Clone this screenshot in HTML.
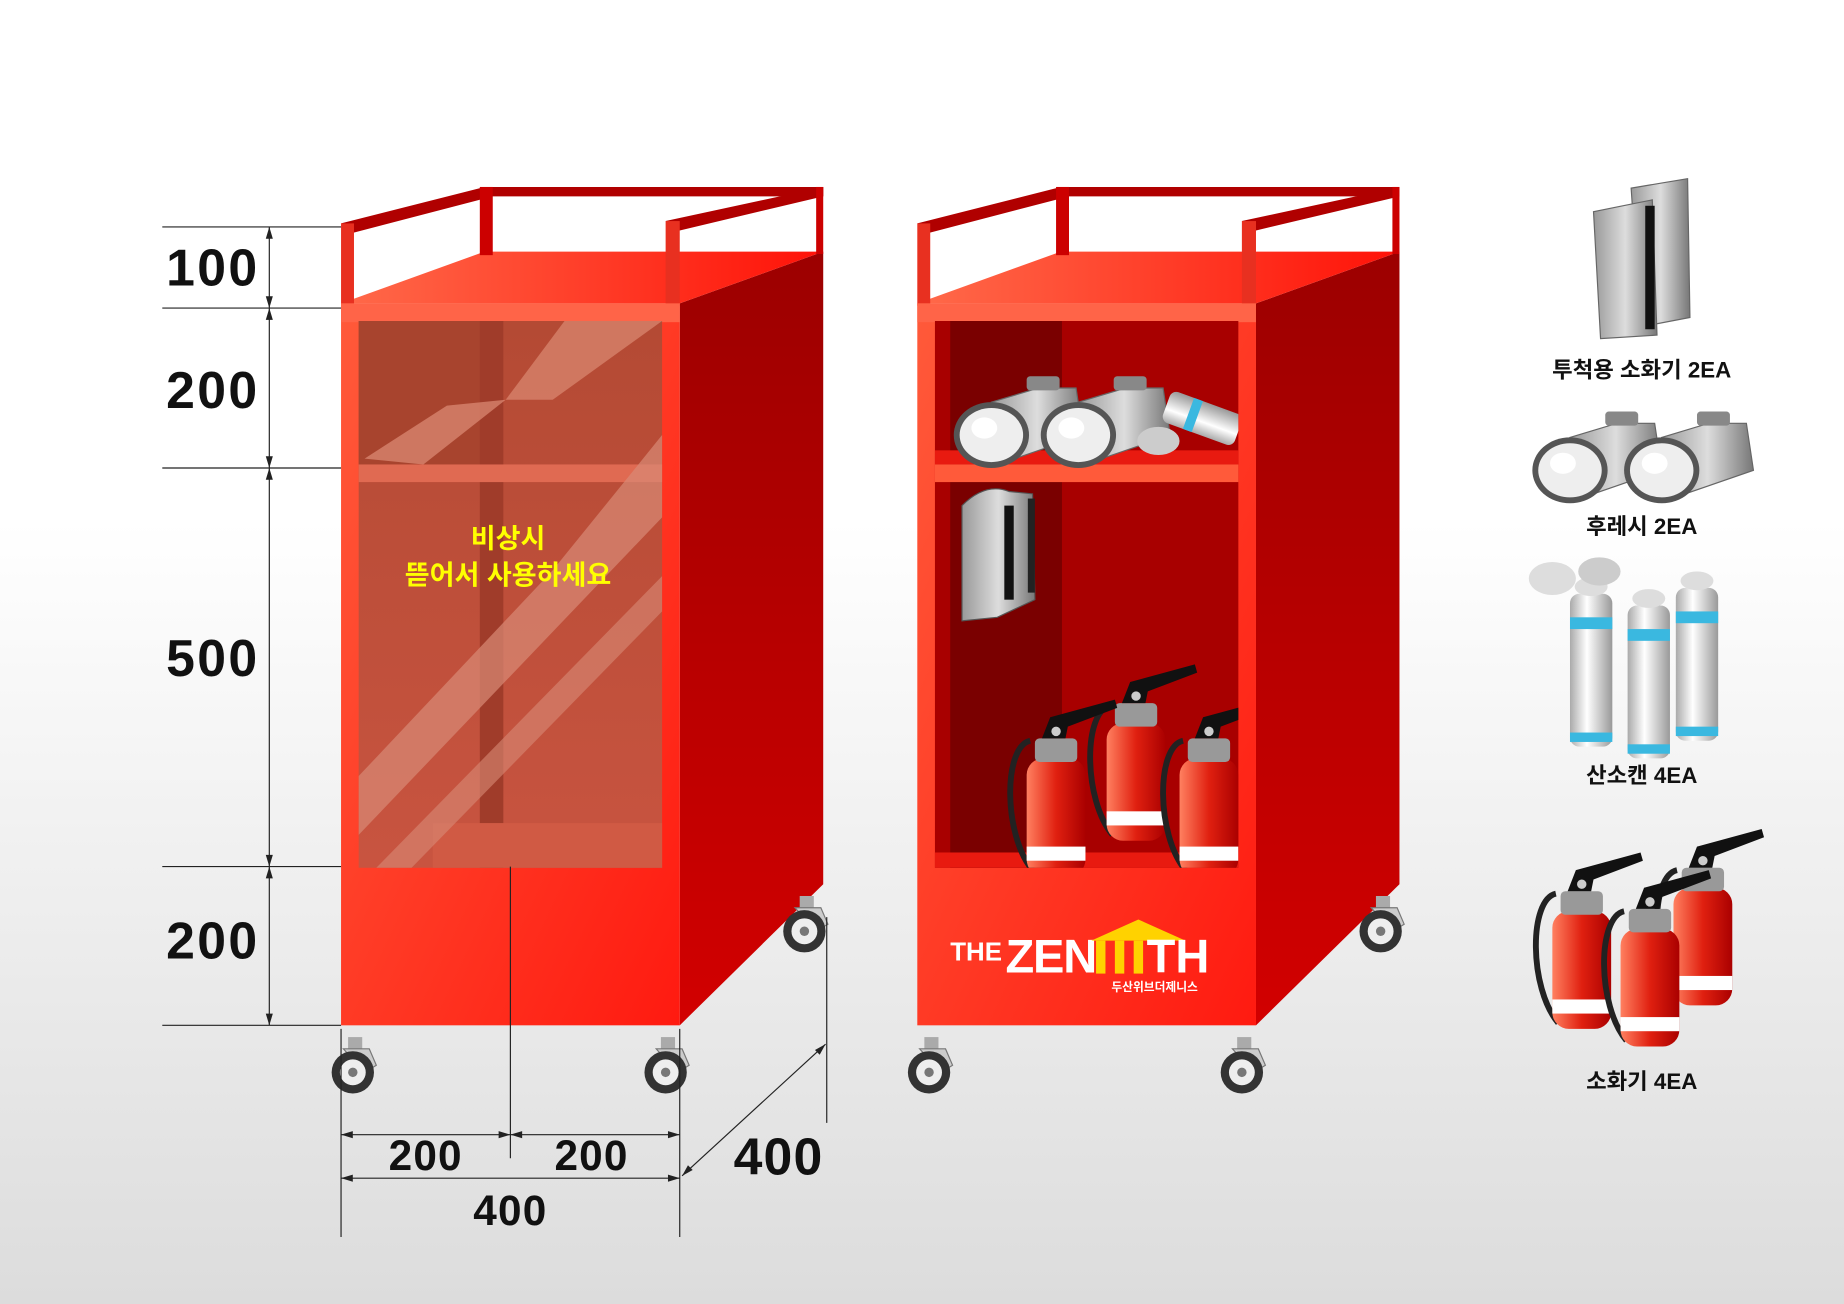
<!DOCTYPE html>
<html><head><meta charset="utf-8"><style>
html,body{margin:0;padding:0;width:1844px;height:1304px;overflow:hidden}
svg{display:block}
text{font-family:"Liberation Sans","Noto Sans CJK KR",sans-serif;font-weight:bold}
</style></head><body>
<svg width="1844" height="1304" viewBox="0 0 1568 1109" preserveAspectRatio="none" xmlns="http://www.w3.org/2000/svg">
<defs>
<linearGradient id="bg" x1="0" y1="0" x2="0" y2="1"><stop offset="0.4" stop-color="#fff"/><stop offset="1" stop-color="#dcdcdc"/></linearGradient>
<linearGradient id="front" x1="0" y1="0" x2="1" y2="1"><stop offset="0" stop-color="#ff5a3a"/><stop offset="1" stop-color="#ff1a10"/></linearGradient>
<linearGradient id="top" x1="0" y1="0" x2="1" y2="0"><stop offset="0" stop-color="#ff6a4a"/><stop offset="1" stop-color="#ff1208"/></linearGradient>
<linearGradient id="side" x1="0" y1="0" x2="0" y2="1"><stop offset="0" stop-color="#9c0000"/><stop offset="1" stop-color="#d20000"/></linearGradient>
<linearGradient id="glass" x1="0" y1="0" x2="0" y2="1"><stop offset="0" stop-color="#b44a34"/><stop offset="1" stop-color="#c85440"/></linearGradient>
<linearGradient id="ext" x1="0" y1="0" x2="1" y2="0"><stop offset="0" stop-color="#ff8060"/><stop offset="0.5" stop-color="#e02010"/><stop offset="1" stop-color="#a00"/></linearGradient>
<linearGradient id="can" x1="0" y1="0" x2="1" y2="0"><stop offset="0" stop-color="#aaa"/><stop offset="0.4" stop-color="#fff"/><stop offset="1" stop-color="#999"/></linearGradient>
<linearGradient id="grey" x1="0" y1="0" x2="1" y2="0"><stop offset="0" stop-color="#999"/><stop offset="0.5" stop-color="#ddd"/><stop offset="1" stop-color="#777"/></linearGradient>
<clipPath id="inner"><rect x="795" y="273" width="258" height="465"/></clipPath>
<g id="wheel">
  <rect x="-4" y="-30" width="12" height="12" fill="#aaa"/>
  <path d="M-8,-20 L14,-20 L20,-6 L10,0 Z" fill="#ccc" stroke="#777"/>
  <circle cx="0" cy="0" r="18" fill="#333"/><circle cx="0" cy="0" r="11" fill="#eee"/><circle cx="0" cy="0" r="4" fill="#777"/>
</g>
<g id="cart">
  <polygon points="578,258 700,214 700,752 578,872" fill="url(#side)"/>
  <polygon points="290,258 412,214 700,214 578,258" fill="url(#top)"/>
  <polygon points="290,190 412,159 700,159 700,167 419,167 300,198" fill="#b00000"/>
  <rect x="408" y="159" width="11" height="58" fill="#c00"/>
  <rect x="290" y="190" width="11" height="70" fill="#e83020"/>
  <polygon points="566,188 700,159 700,167 578,196" fill="#b00000"/>
  <rect x="566" y="188" width="12" height="72" fill="#e83020"/>
  <rect x="694" y="159" width="6" height="57" fill="#c00"/>
  <rect x="290" y="258" width="288" height="614" fill="url(#front)"/>
  <rect x="290" y="258" width="288" height="16" fill="#ff6448"/>
</g>
<g id="ext1">
  <path d="M-22,-60 C-45,-55 -45,20 -20,50" fill="none" stroke="#222" stroke-width="5"/>
  <rect x="-25" y="-45" width="50" height="100" rx="14" fill="url(#ext)"/>
  <rect x="-25" y="30" width="50" height="12" fill="#fff"/>
  <rect x="-18" y="-62" width="36" height="20" rx="4" fill="#999"/>
  <path d="M-12,-62 L-5,-80 L50,-95 L52,-88 L10,-72 L8,-62 Z" fill="#111"/>
  <circle cx="0" cy="-68" r="4" fill="#ccc"/>
</g>
<g id="flash">
  <path d="M0,-18 L40,-30 L72,-30 L78,10 L20,30 Z" fill="url(#grey)" stroke="#666"/>
  <rect x="30" y="-40" width="28" height="12" rx="3" fill="#888"/>
  <ellipse cx="0" cy="10" rx="32" ry="28" fill="#555"/>
  <ellipse cx="0" cy="10" rx="27" ry="23" fill="#eee"/>
  <ellipse cx="-6" cy="4" rx="11" ry="9" fill="#fff"/>
</g>
<g id="can1">
  <rect x="-18" y="-60" width="36" height="130" rx="8" fill="url(#can)"/>
  <rect x="-18" y="-40" width="36" height="10" fill="#3ab8e0"/>
  <rect x="-18" y="58" width="36" height="8" fill="#3ab8e0"/>
  <ellipse cx="0" cy="-66" rx="14" ry="8" fill="#ddd"/>
</g>
<g id="mask">
  <path d="M0,0 Q20,-20 40,-12 L60,-10 L62,80 L30,95 L0,98 Z" fill="url(#grey)" stroke="#555"/>
  <rect x="36" y="0" width="8" height="80" fill="#111"/>
  <rect x="56" y="-6" width="6" height="80" fill="#222"/>
</g>
</defs>
<rect width="1568" height="1109" fill="url(#bg)"/>

<!-- LEFT CART -->
<use href="#cart"/>
<rect x="305" y="273" width="258" height="465" fill="url(#glass)"/>
<rect x="305" y="273" width="110" height="122" fill="#a8442e"/>
<rect x="408" y="273" width="20" height="465" fill="#a03c2a"/>
<rect x="305" y="395" width="258" height="15" fill="#e06a52"/>
<rect x="368" y="700" width="195" height="38" fill="#d05a44"/>
<polygon points="305,660 470,485 563,370 563,440 305,710" fill="#d98a76" opacity="0.7"/>
<polygon points="320,738 563,490 563,520 350,738" fill="#d98a76" opacity="0.6"/>
<polygon points="430,340 480,273 563,273 470,340" fill="#dc8a74" opacity="0.7"/>
<polygon points="310,390 380,345 430,340 360,395" fill="#e89a84" opacity="0.6"/>
<text x="432" y="466" font-size="23" fill="#ffff00" text-anchor="middle">비상시</text>
<text x="432" y="497" font-size="23" fill="#ffff00" text-anchor="middle">뜯어서 사용하세요</text>
<use href="#wheel" x="300" y="912"/>
<use href="#wheel" x="566" y="912"/>
<use href="#wheel" x="684" y="792"/>

<!-- RIGHT CART -->
<g transform="translate(490,0)">
<use href="#cart"/>
<rect x="305" y="273" width="258" height="465" fill="#a80000"/>
<rect x="318" y="273" width="95" height="465" fill="#7a0000"/>
<rect x="305" y="383" width="258" height="12" fill="#e81a10"/>
<rect x="305" y="395" width="258" height="15" fill="#ff5a3a"/>
<rect x="305" y="725" width="258" height="13" fill="#e81a10"/>
</g>
<g clip-path="url(#inner)">
<use href="#flash" x="843" y="360"/>
<use href="#flash" x="917" y="360"/>
<g transform="translate(1020,355) rotate(-70)"><rect x="-14" y="-30" width="28" height="65" rx="6" fill="url(#can)"/><rect x="-14" y="-10" width="28" height="8" fill="#3ab8e0"/></g>
<ellipse cx="985" cy="375" rx="18" ry="12" fill="#ccc"/>
<use href="#mask" x="818" y="430"/>
<use href="#ext1" x="966" y="660"/>
<use href="#ext1" x="898" y="690"/>
<use href="#ext1" x="1028" y="690"/>
</g>
<text x="808" y="817" font-size="22" fill="#fff">THE</text>
<text x="855" y="827" font-size="40" fill="#fff" letter-spacing="-1">ZEN</text>
<path d="M928,800 L968,782 L1008,800 Z" fill="#ffd200"/>
<rect x="932" y="800" width="8" height="28" fill="#ffd200"/><rect x="948" y="800" width="8" height="28" fill="#ffd200"/><rect x="964" y="800" width="8" height="28" fill="#ffd200"/>
<text x="975" y="827" font-size="40" fill="#fff">TH</text>
<text x="945" y="843" font-size="10" fill="#fff">두산위브더제니스</text>
<use href="#wheel" x="790" y="912"/>
<use href="#wheel" x="1056" y="912"/>
<use href="#wheel" x="1174" y="792"/>

<!-- DIMENSIONS -->
<g stroke="#222" stroke-width="1" fill="none">
<line x1="138" y1="193" x2="290" y2="193"/><line x1="138" y1="262" x2="290" y2="262"/>
<line x1="138" y1="398" x2="290" y2="398"/><line x1="138" y1="737" x2="290" y2="737"/>
<line x1="138" y1="872" x2="290" y2="872"/>
<line x1="229" y1="193" x2="229" y2="872"/>
<line x1="290" y1="875" x2="290" y2="1052"/><line x1="434" y1="737" x2="434" y2="985"/>
<line x1="578" y1="875" x2="578" y2="1052"/>
<line x1="290" y1="965" x2="578" y2="965"/><line x1="290" y1="1002" x2="578" y2="1002"/>
<line x1="580" y1="1000" x2="702" y2="888"/><line x1="703" y1="780" x2="703" y2="955"/>
</g>
<g fill="#222">
<path d="M229,193 l-3,10 h6z M229,262 l-3,-10 h6z M229,262 l-3,10 h6z M229,398 l-3,-10 h6z M229,398 l-3,10 h6z M229,737 l-3,-10 h6z M229,737 l-3,10 h6z M229,872 l-3,-10 h6z"/>
<path d="M290,965 l10,-3 v6z M434,965 l-10,-3 v6z M434,965 l10,-3 v6z M578,965 l-10,-3 v6z M290,1002 l10,-3 v6z M578,1002 l-10,-3 v6z M580,1000 l5,-9 l4,4z M702,888 l-5,9 l-4,-4z"/>
</g>
<g font-size="44" fill="#111" text-anchor="middle" letter-spacing="2">
<text x="181" y="243">100</text><text x="181" y="347">200</text>
<text x="181" y="575">500</text><text x="181" y="815">200</text>
</g>
<g font-size="36" fill="#111" text-anchor="middle" letter-spacing="1">
<text x="362" y="995">200</text><text x="503" y="995">200</text>
<text x="434" y="1042">400</text><text x="662" y="999" font-size="44">400</text>
</g>

<!-- RIGHT ICONS -->
<g transform="translate(1355,170)">
<path d="M32,-10 L80,-18 L82,100 L40,108 Z" fill="url(#grey)" stroke="#666"/>
<path d="M0,10 L50,0 L54,115 L6,118 Z" fill="url(#grey)" stroke="#666"/>
<rect x="44" y="5" width="8" height="105" fill="#111"/>
</g>
<text x="1396" y="321" font-size="19" fill="#111" text-anchor="middle">투척용 소화기 2EA</text>
<use href="#flash" x="1335" y="390"/>
<use href="#flash" x="1413" y="390"/>
<text x="1396" y="454" font-size="19" fill="#111" text-anchor="middle">후레시 2EA</text>
<use href="#can1" x="1443" y="560"/>
<use href="#can1" x="1353" y="565"/>
<use href="#can1" x="1402" y="575"/>
<ellipse cx="1320" cy="492" rx="20" ry="14" fill="#ddd"/><ellipse cx="1360" cy="486" rx="18" ry="12" fill="#ccc"/>
<text x="1396" y="666" font-size="19" fill="#111" text-anchor="middle">산소캔 4EA</text>
<use href="#ext1" x="1448" y="800"/>
<use href="#ext1" x="1345" y="820"/>
<use href="#ext1" x="1403" y="835"/>
<text x="1396" y="926" font-size="19" fill="#111" text-anchor="middle">소화기 4EA</text>
</svg>
</body></html>
